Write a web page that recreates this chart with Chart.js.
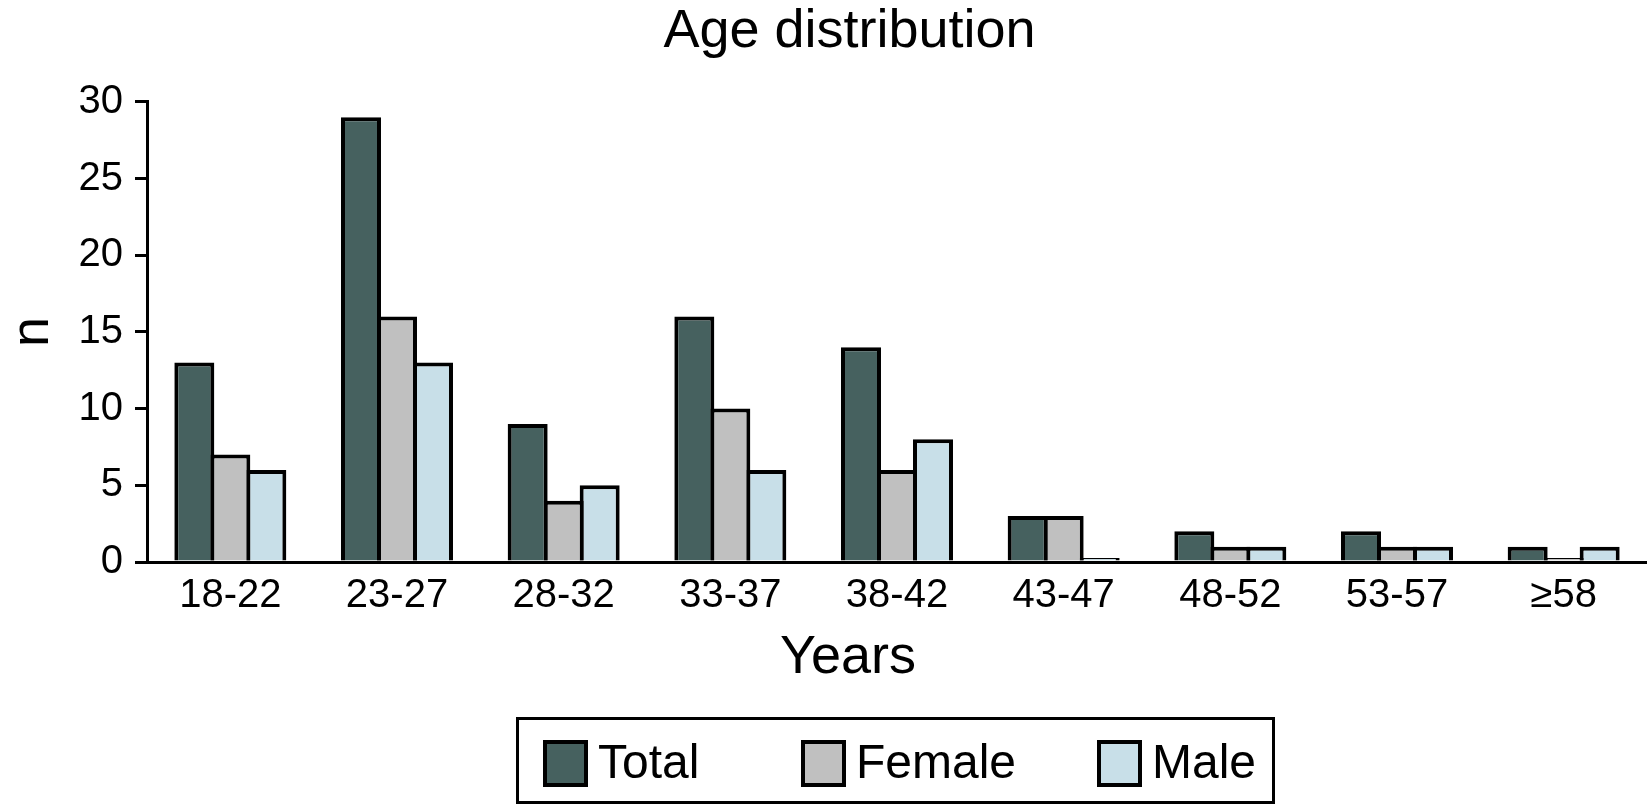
<!DOCTYPE html>
<html>
<head>
<meta charset="utf-8">
<title>Age distribution</title>
<script src="https://cdn.jsdelivr.net/npm/chart.js@4.4.1/dist/chart.umd.min.js"></script>
<style>
  html, body { margin: 0; padding: 0; background: #fff; overflow: hidden; }
  #wrap { width: 1647px; height: 805px; }
</style>
</head>
<body>
<div id="wrap"><canvas id="ageChart"></canvas></div>
<script>
// data
const categories = ["18-22", "23-27", "28-32", "33-37", "38-42", "43-47", "48-52", "53-57", "\u226558"];
const totalCounts = [13, 29, 9, 16, 14, 3, 2, 2, 1];
const femaleCounts = [7, 16, 4, 10, 6, 3, 1, 1, 0];
const maleCounts = [6, 13, 5, 6, 8, 0, 1, 1, 1];
const yTicks = [0, 5, 10, 15, 20, 25, 30];
const seriesNames = ["Total", "Female", "Male"];
const seriesColors = ["#46615f", "#c0c0c0", "#c8dfe8"];

const FONT = "'Liberation Sans', Arial, Helvetica, sans-serif";

// "Years" and the boxed legend are drawn here so they sit where the figure has them
const extraText = {
  id: "extraText",
  afterLayout(chart) {
    // the figure centres its title a bit right of the canvas middle
    chart.titleBlock.left = 52;
  },
  afterDraw(chart) {
    const ctx = chart.ctx;
    ctx.save();
    ctx.fillStyle = "#000";
    ctx.font = "54px " + FONT;
    ctx.textAlign = "center";
    ctx.textBaseline = "alphabetic";
    ctx.fillText("Years", 848, 673);

    // legend frame
    ctx.lineWidth = 3;
    ctx.strokeStyle = "#000";
    ctx.strokeRect(517.5, 718.5, 756, 84);

    const swatchX = [543, 801, 1097];
    ctx.font = "48px " + FONT;
    ctx.textAlign = "left";
    ctx.textBaseline = "middle";
    chart.data.datasets.forEach((ds, i) => {
      const x = swatchX[i];
      ctx.fillStyle = ds.backgroundColor;
      ctx.fillRect(x, 740, 45, 47);
      ctx.lineWidth = 4;
      ctx.strokeRect(x + 2, 742, 41, 43);
      ctx.fillStyle = "#000";
      ctx.fillText(ds.label, x + 55, 765);
    });
    ctx.restore();
  }
};

const counts = [totalCounts, femaleCounts, maleCounts];

new Chart(document.getElementById("ageChart"), {
  type: "bar",
  data: {
    labels: categories,
    datasets: seriesNames.map((name, i) => ({
      label: name,
      data: counts[i],
      backgroundColor: seriesColors[i],
      borderColor: "#000",
      borderWidth: 4,
      minBarLength: 4,
      categoryPercentage: 0.648,
      barPercentage: 1.111,
    })),
  },
  options: {
    responsive: true,
    maintainAspectRatio: false,
    animation: false,
    layout: { padding: 0 },
    plugins: {
      legend: { display: false },
      tooltip: { enabled: false },
      title: {
        display: true,
        text: "Age distribution",
        color: "#000",
        font: { family: FONT, size: 54, weight: "normal", lineHeight: 1.2 },
        padding: { top: 0, bottom: 37 },
      },
    },
    scales: {
      x: {
        grid: { display: true, drawOnChartArea: false, drawTicks: false },
        border: { display: true, color: "#000", width: 3 },
        ticks: {
          color: "#000",
          padding: 10,
          font: { family: FONT, size: 40 },
          maxRotation: 0,
          autoSkip: false,
        },
        afterFit: (scale) => { scale.height = 243; },
      },
      y: {
        min: 0,
        max: 30,
        afterBuildTicks: (scale) => { scale.ticks = yTicks.map((v) => ({ value: v })); },
        grid: { drawOnChartArea: false, drawTicks: true, tickLength: 12, color: "#000", lineWidth: 3 },
        border: { display: true, color: "#000", width: 3 },
        ticks: {
          color: "#000",
          padding: 12,
          font: { family: FONT, size: 40 },
        },
        title: {
          display: true,
          text: "n",
          color: "#000",
          font: { family: FONT, size: 54, lineHeight: 1 },
          padding: { top: 6, bottom: 0 },
        },
        afterFit: (scale) => { scale.width = 147; },
      },
    },
  },
  plugins: [extraText],
});
</script>
</body>
</html>
